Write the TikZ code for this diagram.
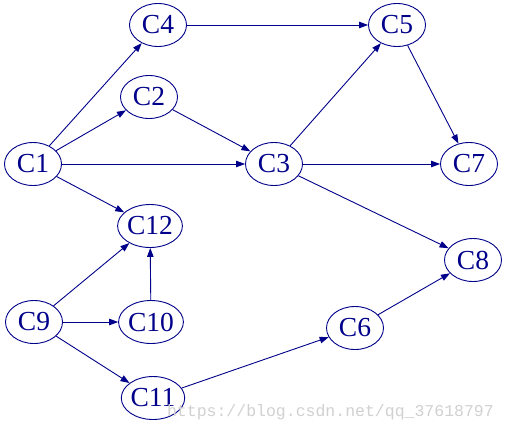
\documentclass[tikz,border=0pt]{standalone}
\usepackage{fontspec}
\setmainfont{Liberation Serif}
\setmonofont{Liberation Mono}
\usetikzlibrary{shapes.geometric,arrows.meta}
\definecolor{gv}{RGB}{0,0,139}
\begin{document}
\begin{tikzpicture}[x=1pt,y=-1pt,
  vnode/.style={ellipse,draw=gv,line width=0.9pt,text=gv,minimum width=57pt,minimum height=43pt,inner sep=0pt,font=\fontsize{27.5}{29}\selectfont},
  edge/.style={draw=gv,line width=0.9pt,-{Triangle[length=9pt,width=6.5pt]}}]
\useasboundingbox (0,0) rectangle (505,431);
\fill[white] (0,0) rectangle (505,431);
\node[vnode] (C4) at (158,25) {C4};
\node[vnode] (C2) at (149,97) {C2};
\node[vnode] (C1) at (33,164) {C1};
\node[vnode] (C3) at (274,164) {C3};
\node[vnode] (C5) at (397,25) {C5};
\node[vnode] (C7) at (469,164) {C7};
\node[vnode] (C12) at (150,226) {C12};
\node[vnode] (C8) at (473,260) {C8};
\node[vnode] (C9) at (34,322) {C9};
\node[vnode] (C10) at (151,322) {C10};
\node[vnode] (C6) at (355,328) {C6};
\node[vnode] (C11) at (153,398) {C11};
\draw[edge] (C1) -- (C4);
\draw[edge] (C1) -- (C2);
\draw[edge] (C1) -- (C3);
\draw[edge] (C1) -- (C12);
\draw[edge] (C4) -- (C5);
\draw[edge] (C2) -- (C3);
\draw[edge] (C3) -- (C5);
\draw[edge] (C3) -- (C7);
\draw[edge] (C3) -- (C8);
\draw[edge] (C5) -- (C7);
\draw[edge] (C9) -- (C12);
\draw[edge] (C9) -- (C10);
\draw[edge] (C10) -- (C12);
\draw[edge] (C9) -- (C11);
\draw[edge] (C11) -- (C6);
\draw[edge] (C6) -- (C8);
\node[anchor=base east,text=black!18,font=\ttfamily\fontsize{16.5}{18}\selectfont,inner sep=0pt] (wm) at (494,416) {https://blog.csdn.net/qq\_37618797};
\end{tikzpicture}
\end{document}
